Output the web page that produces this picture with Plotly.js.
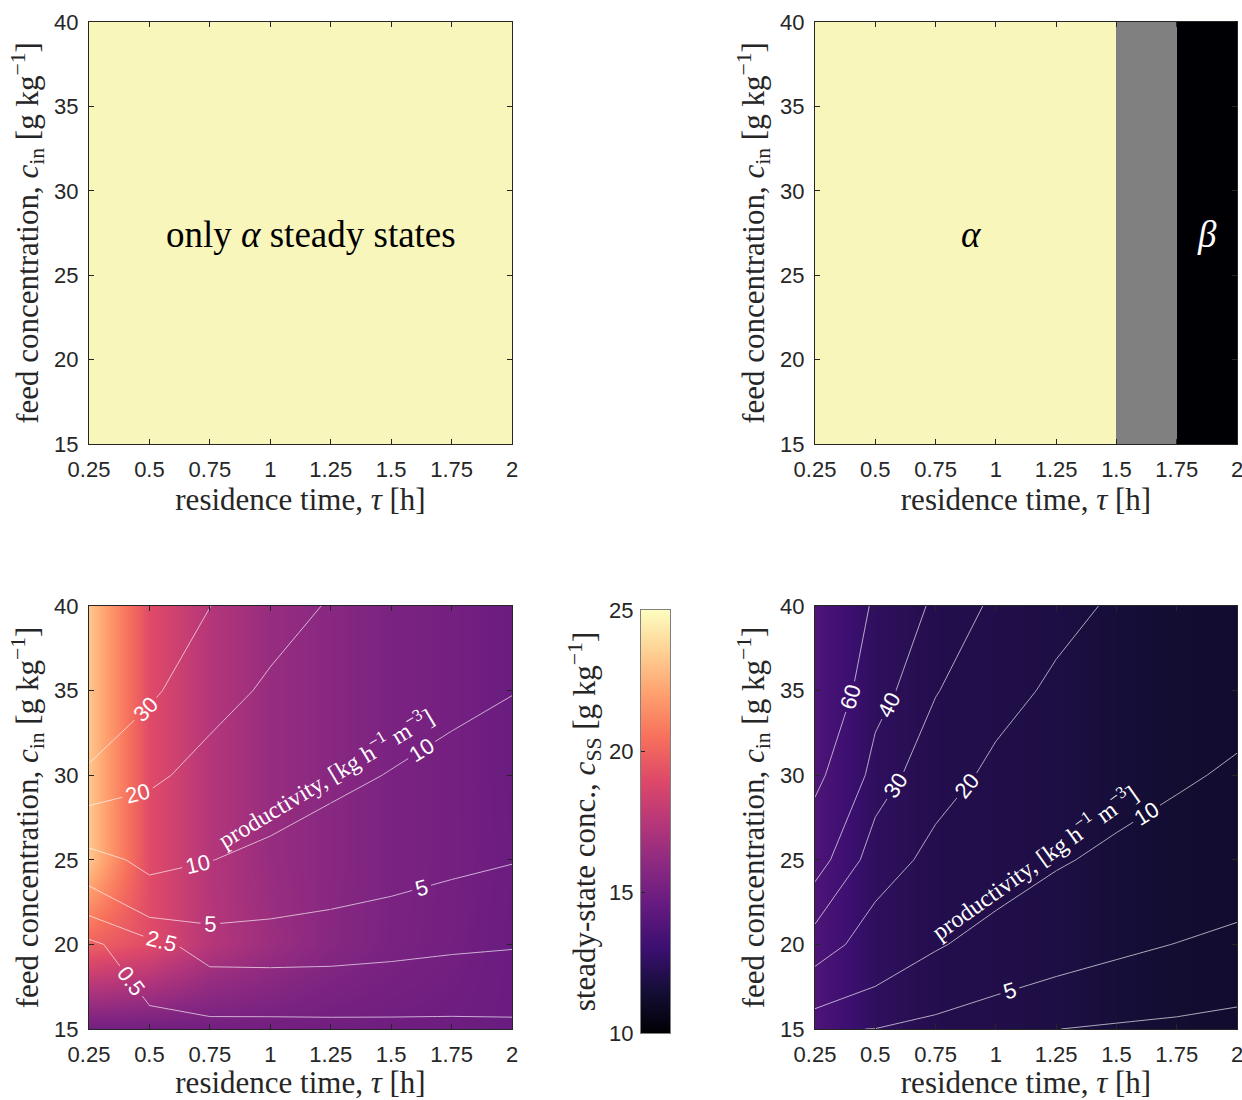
<!DOCTYPE html>
<html>
<head>
<meta charset="utf-8">
<script src="https://cdn.plot.ly/plotly-3.0.1.min.js"></script>
<style>
  html, body { margin: 0; padding: 0; background: #ffffff; }
  #chart { width: 1242px; height: 1100px; }
</style>
</head>
<body>
<div id="chart"></div>
<script>
// ---------------- data ----------------
const tau = [0.25, 0.5, 0.75, 1, 1.25, 1.5, 1.75, 2];          // residence time [h]
const cin = [15, 20, 25, 30, 35, 40];                           // feed concentration [g/kg]
const tauTicks = [0.25, 0.5, 0.75, 1, 1.25, 1.5, 1.75, 2];
const tauTickText = ['0.25', '0.5', '0.75', '1', '1.25', '1.5', '1.75', '2'];
const cinTicks = [15, 20, 25, 30, 35, 40];
const cbarTicks = [10, 15, 20, 25];
const cbarRange = [10, 25];

// regime maps (top row): 0 = alpha, 1 = both/grey, 2 = beta
const regimeTLEdges = [0.25, 2];
const regimeTL = [0];
const regimeTREdges = [0.25, 1.5, 1.75, 2];
const regimeTR = [0, 1, 2];
const regimeCinEdges = [15, 40];

// steady-state concentration c_ss [g/kg], rows = cin, cols = tau
const cssLeft = [
  [15.0, 15.0, 15.0, 15.0, 14.95, 14.9, 14.85, 14.7],
  [19.98, 19.1, 17.45, 16.55, 15.8, 15.32, 15.05, 14.7],
  [23.2, 19.1, 17.4, 16.4, 15.85, 15.35, 15.1, 14.75],
  [23.2, 19.1, 17.4, 16.4, 15.85, 15.35, 15.1, 14.7],
  [23.2, 19.1, 17.4, 16.4, 15.85, 15.35, 15.1, 14.7],
  [23.2, 19.1, 17.4, 16.4, 15.85, 15.35, 15.1, 14.7]
];
const cssRight = [
  [13.7, 12.52, 12.1, 12.0, 11.85, 11.6, 11.35, 11.3],
  [13.7, 12.52, 12.1, 12.0, 11.85, 11.6, 11.35, 11.3],
  [13.7, 12.52, 12.1, 12.0, 11.85, 11.6, 11.35, 11.3],
  [13.7, 12.52, 12.1, 12.0, 11.85, 11.6, 11.35, 11.3],
  [13.7, 12.52, 12.1, 12.0, 11.85, 11.6, 11.35, 11.3],
  [13.7, 12.52, 12.1, 12.0, 11.85, 11.6, 11.35, 11.3]
];

// productivity [kg h^-1 m^-3], rows = cin, cols = tau
const prodLeft = [
  [0, 0, 0, 0, 0.04, 0.07, 0.09, 0.15],
  [0.08, 1.8, 3.4, 3.45, 3.36, 3.12, 2.83, 2.65],
  [7.2, 11.8, 10.13, 8.6, 7.32, 6.43, 5.66, 5.13],
  [27.2, 21.8, 16.8, 13.6, 11.32, 9.77, 8.51, 7.65],
  [47.2, 31.8, 23.47, 18.6, 15.32, 13.1, 11.37, 10.15],
  [67.2, 41.8, 30.13, 23.6, 19.32, 16.43, 14.23, 12.65]
];
const prodRight = [
  [5.2, 4.96, 3.87, 3.0, 2.52, 2.27, 2.09, 1.85],
  [25.2, 14.96, 10.53, 8.0, 6.52, 5.6, 4.94, 4.35],
  [45.2, 24.96, 17.2, 13.0, 10.52, 8.93, 7.8, 6.85],
  [65.2, 34.96, 23.87, 18.0, 14.52, 12.27, 10.66, 9.35],
  [85.2, 44.96, 30.53, 23.0, 18.52, 15.6, 13.51, 11.85],
  [105.2, 54.96, 37.2, 28.0, 22.52, 18.93, 16.37, 14.35]
];
const levelsLeft = [0.5, 2.5, 5, 10, 20, 30];
const levelsRight = [2.5, 5, 10, 20, 30, 40, 60];

// ---------------- styling ----------------
const W = 1242, H = 1100;
const magma = [
  [0.0, '#000004'], [0.1, '#140e36'], [0.2, '#3b0f70'], [0.3, '#641a80'],
  [0.4, '#8c2981'], [0.5, '#b73779'], [0.6, '#de4968'], [0.7, '#f7705c'],
  [0.8, '#fe9f6d'], [0.9, '#fecf92'], [1.0, '#fcfdbf']
];
const regimeScale = [[0, '#f9f6bc'], [0.5, '#808080'], [1, '#000004']];
const AX = '#262626';
const tickFont = { family: 'Liberation Sans, Arial, sans-serif', size: 22, color: AX };
const serif = 'Liberation Serif, Times New Roman, serif';
const titleFont = { family: serif, size: 31, color: AX };

const px2x = (a, b) => [a / W, b / W];
const px2y = (top, bottom) => [1 - bottom / H, 1 - top / H];

const xTitle = 'residence time, <i>τ</i> [h]';
const yTitle = 'feed concentration, <i>c</i><sub>in</sub> [g kg<sup>−1</sup>]';

function xAxis(domain, anchor) {
  return {
    domain: domain, anchor: anchor, range: [0.25, 2],
    tickvals: tauTicks, ticktext: tauTickText, tickfont: tickFont,
    ticks: 'inside', ticklen: 5, tickwidth: 1, tickcolor: AX,
    showline: true, linecolor: AX, linewidth: 1, mirror: 'ticks',
    showgrid: false, zeroline: false, ticklabelstandoff: 6,
    ticklabeloverflow: 'allow',
    title: { text: xTitle, font: titleFont, standoff: 2 }
  };
}
function yAxis(domain, anchor) {
  return {
    domain: domain, anchor: anchor, range: [15, 40],
    tickvals: cinTicks, tickfont: tickFont,
    ticks: 'inside', ticklen: 5, tickwidth: 1, tickcolor: AX,
    showline: true, linecolor: AX, linewidth: 1, mirror: 'ticks',
    showgrid: false, zeroline: false, ticklabelstandoff: 5,
    ticklabeloverflow: 'allow',
    title: { text: yTitle, font: titleFont, standoff: 6 }
  };
}

const traces = [];
// top-left regime map
traces.push({
  type: 'heatmap', x: regimeTLEdges, y: regimeCinEdges, z: [regimeTL],
  zmin: 0, zmax: 2, colorscale: regimeScale, showscale: false,
  xaxis: 'x', yaxis: 'y', hoverinfo: 'skip'
});
// top-right regime map
traces.push({
  type: 'heatmap', x: regimeTREdges, y: regimeCinEdges, z: [regimeTR],
  zmin: 0, zmax: 2, colorscale: regimeScale, showscale: false,
  xaxis: 'x2', yaxis: 'y2', hoverinfo: 'skip'
});
// bottom heatmaps
traces.push({
  type: 'heatmap', x: tau, y: cin, z: cssLeft, zsmooth: 'best',
  zmin: cbarRange[0], zmax: cbarRange[1], colorscale: magma, showscale: false,
  xaxis: 'x3', yaxis: 'y3', hoverinfo: 'skip'
});
traces.push({
  type: 'heatmap', x: tau, y: cin, z: cssRight, zsmooth: 'best',
  zmin: cbarRange[0], zmax: cbarRange[1], colorscale: magma, showscale: false,
  xaxis: 'x4', yaxis: 'y4', hoverinfo: 'skip'
});

// productivity contours; optional column split so a label lands in one part only
function contourTrace(z, L, xa, ya, c0, c1, labels) {
  return {
    type: 'contour', x: tau.slice(c0, c1 + 1),
    y: cin, z: z.map(function (r) { return r.slice(c0, c1 + 1); }),
    autocontour: false,
    contours: {
      start: L, end: L, size: 1, coloring: 'none', showlabels: labels,
      labelfont: { family: 'Liberation Sans, Arial, sans-serif', size: 22, color: '#ffffff' }
    },
    line: { color: 'rgba(255,255,255,0.82)', width: 0.8, smoothing: 0 },
    showscale: false, xaxis: xa, yaxis: ya, hoverinfo: 'skip'
  };
}
function addContours(z, levels, xa, ya, splits) {
  levels.forEach(function (L) {
    const sp = splits[L];
    if (sp) {
      sp.forEach(function (s) { traces.push(contourTrace(z, L, xa, ya, s[0], s[1], s[2])); });
    } else {
      traces.push(contourTrace(z, L, xa, ya, 0, tau.length - 1, true));
    }
  });
}
addContours(prodLeft, levelsLeft, 'x3', 'y3', {
  2.5: [[0, 3, true], [3, 7, false]],
  5: [[0, 4, true], [4, 7, true]],
  10: [[0, 4, true], [4, 7, true]]
});
addContours(prodRight, levelsRight, 'x4', 'y4', {
  5: [[0, 4, true], [4, 7, false]],
  10: [[0, 4, false], [4, 7, true]]
});

// colour bar drawn as its own small axis
traces.push({
  type: 'heatmap', x: [0, 1], y: cbarRange,
  z: [[cbarRange[0], cbarRange[0]], [cbarRange[1], cbarRange[1]]],
  zsmooth: 'best', zmin: cbarRange[0], zmax: cbarRange[1],
  colorscale: magma, showscale: false, xaxis: 'x5', yaxis: 'y5', hoverinfo: 'skip'
});

const layout = {
  width: W, height: H,
  margin: { l: 0, r: 0, t: 0, b: 0 },
  paper_bgcolor: '#ffffff', plot_bgcolor: '#ffffff',
  showlegend: false,
  xaxis: xAxis(px2x(89, 512), 'y'),
  yaxis: yAxis(px2y(22, 444), 'x'),
  xaxis2: xAxis(px2x(815, 1237), 'y2'),
  yaxis2: yAxis(px2y(22, 444), 'x2'),
  xaxis3: xAxis(px2x(89, 512), 'y3'),
  yaxis3: yAxis(px2y(606, 1029), 'x3'),
  xaxis4: xAxis(px2x(815, 1237), 'y4'),
  yaxis4: yAxis(px2y(606, 1029), 'x4'),
  xaxis5: {
    domain: px2x(641, 670), anchor: 'y5', range: [0, 1],
    showticklabels: false, ticks: '', showline: true, linecolor: '#808080',
    linewidth: 1, mirror: true, showgrid: false, zeroline: false
  },
  yaxis5: {
    domain: px2y(610, 1033), anchor: 'x5', range: cbarRange, side: 'left',
    tickvals: cbarTicks, tickfont: tickFont,
    ticks: 'inside', ticklen: 4, tickwidth: 1, tickcolor: AX,
    showline: true, linecolor: '#808080', linewidth: 1, mirror: true,
    showgrid: false, zeroline: false, ticklabelstandoff: 2,
    ticklabeloverflow: 'allow',
    title: {
      text: 'steady-state conc., <i>c</i><sub>SS</sub> [g kg<sup>−1</sup>]',
      font: titleFont, standoff: 4
    }
  },
  annotations: [
    { xref: 'x', yref: 'y', x: 1.17, y: 27.4, text: 'only <i>α</i> steady states',
      showarrow: false, font: { family: serif, size: 37, color: '#000000' } },
    { xref: 'x2', yref: 'y2', x: 0.9, y: 27.4, text: '<i>α</i>',
      showarrow: false, font: { family: serif, size: 37, color: '#000000' } },
    { xref: 'x2', yref: 'y2', x: 1.875, y: 27.4, text: '<i>β</i>',
      showarrow: false, font: { family: serif, size: 37, color: '#ffffff' } },
    { xref: 'x3', yref: 'y3', x: 1.226, y: 29.9, textangle: -31,
      text: 'productivity, [kg h<sup>−1</sup> m<sup>−3</sup>]',
      showarrow: false, font: { family: serif, size: 24, color: '#ffffff' } },
    { xref: 'x4', yref: 'y4', x: 1.16, y: 24.9, textangle: -35.5,
      text: 'productivity, [kg h<sup>−1</sup> m<sup>−3</sup>]',
      showarrow: false, font: { family: serif, size: 24, color: '#ffffff' } }
  ]
};

Plotly.newPlot('chart', traces, layout, { displayModeBar: false, staticPlot: true });
</script>
</body>
</html>
